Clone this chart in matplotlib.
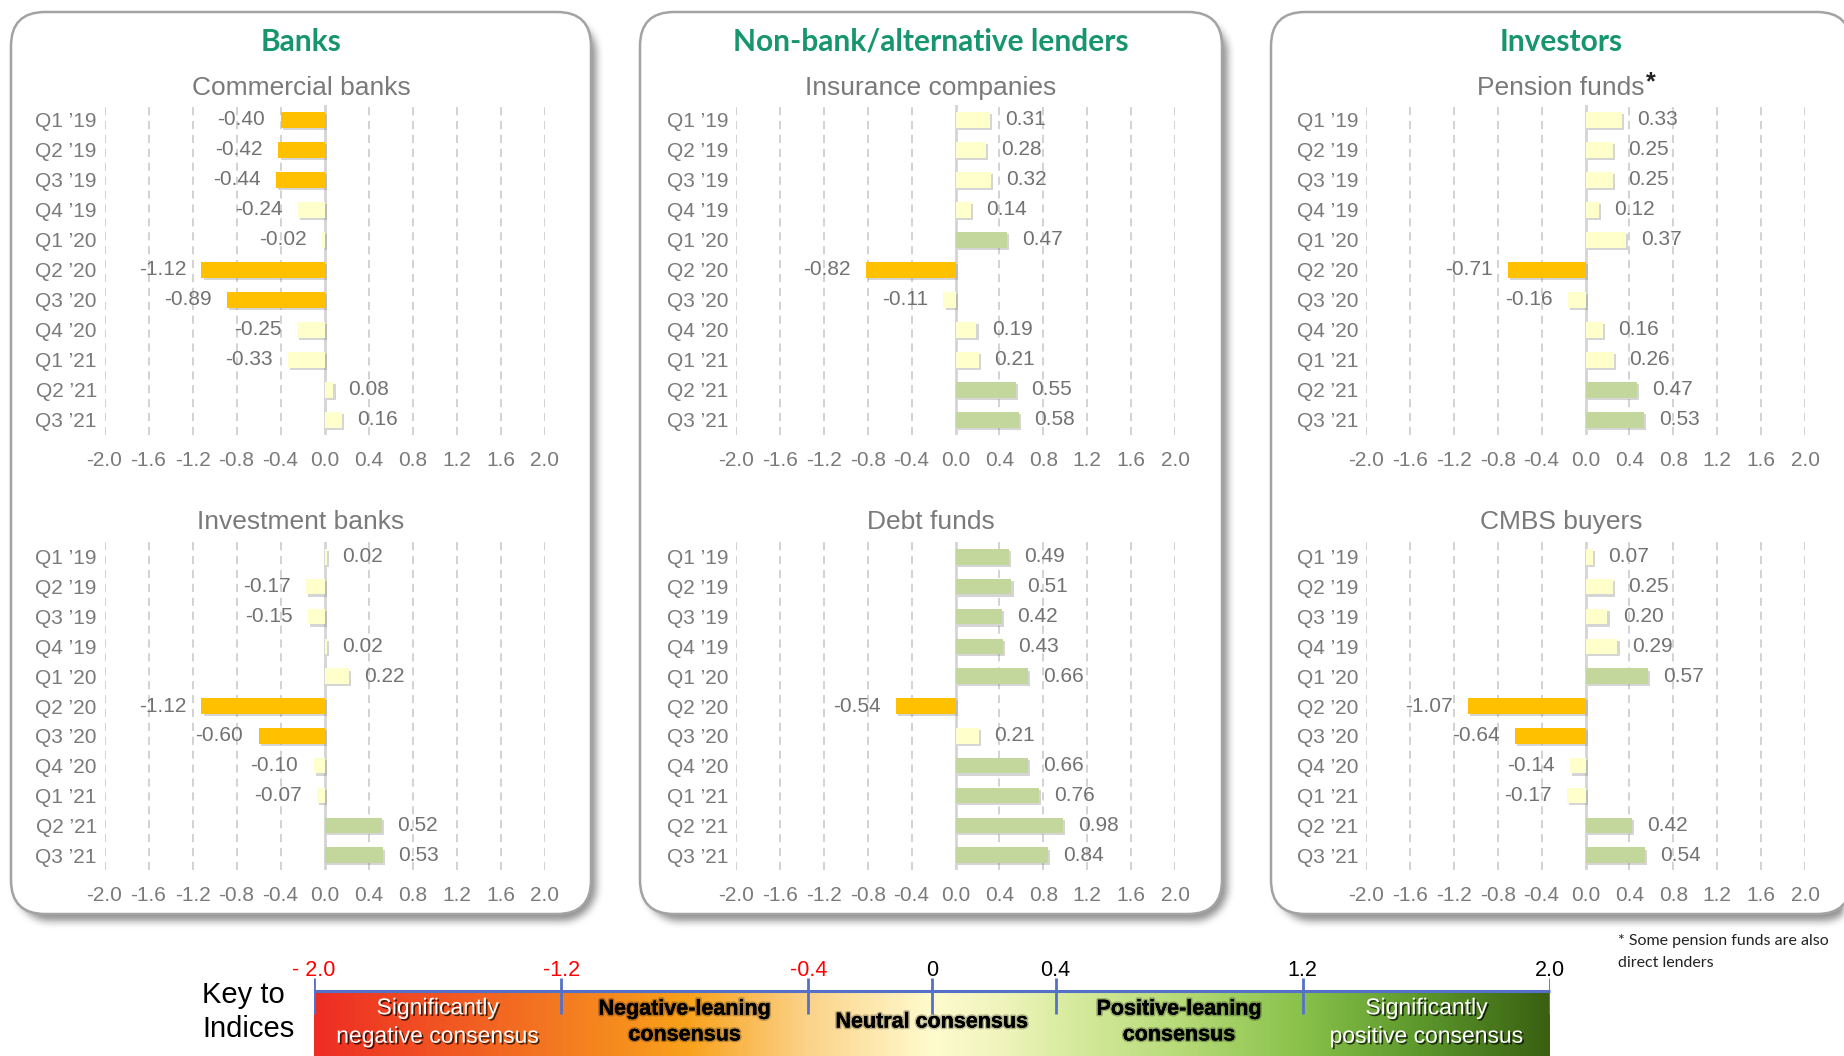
import numpy as np
import matplotlib
matplotlib.use("Agg")
import matplotlib.pyplot as plt
from matplotlib import patheffects as pe
from matplotlib.patches import FancyBboxPatch
from matplotlib.colors import LinearSegmentedColormap

plt.rcParams['font.family'] = ['Liberation Sans', 'DejaVu Sans']

# ---------------------------------------------------------------- data
quarters = ["Q1 \u201919", "Q2 \u201919", "Q3 \u201919", "Q4 \u201919",
            "Q1 \u201920", "Q2 \u201920", "Q3 \u201920", "Q4 \u201920",
            "Q1 \u201921", "Q2 \u201921", "Q3 \u201921"]

commercial_banks = [-0.40, -0.42, -0.44, -0.24, -0.02, -1.12, -0.89, -0.25, -0.33, 0.08, 0.16]
investment_banks = [0.02, -0.17, -0.15, 0.02, 0.22, -1.12, -0.60, -0.10, -0.07, 0.52, 0.53]
insurance_companies = [0.31, 0.28, 0.32, 0.14, 0.47, -0.82, -0.11, 0.19, 0.21, 0.55, 0.58]
debt_funds = [0.49, 0.51, 0.42, 0.43, 0.66, -0.54, 0.21, 0.66, 0.76, 0.98, 0.84]
pension_funds = [0.33, 0.25, 0.25, 0.12, 0.37, -0.71, -0.16, 0.16, 0.26, 0.47, 0.53]
cmbs_buyers = [0.07, 0.25, 0.20, 0.29, 0.57, -1.07, -0.64, -0.14, -0.17, 0.42, 0.54]

group_titles = ["Banks", "Non-bank/alternative lenders", "Investors"]
chart_titles = [["Commercial banks", "Investment banks"],
                ["Insurance companies", "Debt funds"],
                ["Pension funds", "CMBS buyers"]]
chart_values = [[commercial_banks, investment_banks],
                [insurance_companies, debt_funds],
                [pension_funds, cmbs_buyers]]

x_ticks = [-2.0, -1.6, -1.2, -0.8, -0.4, 0.0, 0.4, 0.8, 1.2, 1.6, 2.0]

key_ticks = [-2.0, -1.2, -0.4, 0.0, 0.4, 1.2, 2.0]
key_tick_labels = ["- 2.0", "-1.2", "-0.4", "0", "0.4", "1.2", "2.0"]
key_band_centers = [-1.6, -0.8, 0.0, 0.8, 1.6]
key_band_labels = ["Significantly\nnegative consensus", "Negative-leaning\nconsensus",
                   "Neutral consensus", "Positive-leaning\nconsensus",
                   "Significantly\npositive consensus"]
footnote = "* Some pension funds are also\ndirect lenders"

# ---------------------------------------------------------------- styling
W, H = 1844, 1056
ORANGE, PALE, GREEN = "#FFC000", "#FFFFCC", "#C3D69B"
GRAY_TXT = "#7A7A7A"
TITLE_GREEN = "#17956F"

panel_x = [(11, 591), (640, 1222), (1271, 1851)]
panel_y = (12, 914)
panel_r = 34
axes_x = [(104.5, 544.5), (736, 1175), (1366, 1805)]
axes_y = [(105, 435), (542, 870)]
subtitle_y = [88, 522]


def px_rect(x0, x1, y0, y1):
    return [x0 / W, 1 - y1 / H, (x1 - x0) / W, (y1 - y0) / H]


def bar_color(v):
    if v <= -0.4:
        return ORANGE
    if v >= 0.4:
        return GREEN
    return PALE


fig = plt.figure(figsize=(W / 100, H / 100), dpi=100)
fig.patch.set_facecolor("white")

bg = fig.add_axes([0, 0, 1, 1])
bg.set_xlim(0, W)
bg.set_ylim(H, 0)
bg.axis("off")
bg.set_zorder(0)

# soft drop shadow under the three panels
yy, xx = np.mgrid[0:H, 0:W] + 0.5
shadow = np.zeros((H, W))
for (x0, x1) in panel_x:
    sx0, sx1, sy0, sy1 = x0 + 5, x1 + 5, panel_y[0] + 7, panel_y[1] + 7
    cx, cy = (sx0 + sx1) / 2, (sy0 + sy1) / 2
    hx, hy = (sx1 - sx0) / 2 - panel_r, (sy1 - sy0) / 2 - panel_r
    dx = np.clip(np.abs(xx - cx) - hx, 0, None)
    dy = np.clip(np.abs(yy - cy) - hy, 0, None)
    d = np.hypot(dx, dy) - panel_r
    shadow = np.maximum(shadow, np.clip(0.5 - d, 0, 1))
kern = np.ones(9) / 9
for _ in range(2):
    shadow = np.apply_along_axis(lambda m: np.convolve(m, kern, mode="same"), 0, shadow)
    shadow = np.apply_along_axis(lambda m: np.convolve(m, kern, mode="same"), 1, shadow)
rgba = np.zeros((H, W, 4))
rgba[..., :3] = 0.42
rgba[..., 3] = shadow * 0.75
bg.imshow(rgba, extent=(0, W, H, 0), zorder=0.5, interpolation="bilinear", aspect="auto")

for (x0, x1) in panel_x:
    bg.add_patch(FancyBboxPatch((x0, panel_y[0]), x1 - x0, panel_y[1] - panel_y[0],
                                boxstyle=f"round,pad=0,rounding_size={panel_r}",
                                fc="white", ec="#A3A3A3", lw=1.8, zorder=1))

bar_fx = [pe.SimplePatchShadow(offset=(1.6, -1.6), shadow_rgbFace="#888888", alpha=0.35),
          pe.Normal()]

for p in range(3):
    pcx = (panel_x[p][0] + panel_x[p][1]) / 2
    bg.text(pcx, 42, group_titles[p], ha="center", va="center", fontsize=21.5,
            fontweight="bold", family=["Lato", "DejaVu Sans"], color=TITLE_GREEN, zorder=3)
    for r in range(2):
        vals = chart_values[p][r]
        t = bg.text(pcx, subtitle_y[r], chart_titles[p][r], ha="center", va="center",
                    fontsize=19, color=GRAY_TXT, zorder=3)
        if p == 2 and r == 0:
            bg.annotate("*", xy=(1, 0.72), xycoords=t, xytext=(0.5, 0),
                        textcoords="offset points", ha="left", va="center",
                        fontsize=18, fontweight="bold", color="#222222", zorder=3)

        ax = fig.add_axes(px_rect(axes_x[p][0], axes_x[p][1], axes_y[r][0], axes_y[r][1]))
        ax.set_zorder(2)
        ax.patch.set_visible(False)
        for s in ax.spines.values():
            s.set_visible(False)

        for tx in x_ticks:
            if tx != 0:
                ax.axvline(tx, color="#CFCFCF", lw=1.3, ls=(0, (4.5, 3.2)), zorder=1)
        ax.axvline(0, color="#D4D4D4", lw=2.0, zorder=2)

        ypos = np.arange(len(quarters))
        bars = ax.barh(ypos, vals, height=0.52, color=[bar_color(v) for v in vals],
                       lw=0, zorder=3)
        for b in bars:
            b.set_path_effects(bar_fx)
        for i, v in enumerate(vals):
            ax.annotate(f"{v:.2f}", xy=(v, i), xytext=(11 if v >= 0 else -11, 0),
                        textcoords="offset points", ha="left" if v >= 0 else "right",
                        va="center", fontsize=15, color="#727272", zorder=4)

        ax.set_xlim(-2, 2)
        ax.set_ylim(len(quarters) - 0.5, -0.5)
        ax.set_xticks(x_ticks)
        ax.set_xticklabels([f"{tx:.1f}" for tx in x_ticks])
        ax.set_yticks(ypos)
        ax.set_yticklabels(quarters)
        ax.tick_params(axis="both", length=0, labelsize=15, labelcolor=GRAY_TXT)
        ax.tick_params(axis="x", pad=11.5)
        ax.tick_params(axis="y", pad=5.5)

# ---------------------------------------------------------------- key to indices
bg.text(202, 1012, "Key to\nIndices", ha="left", va="center", fontsize=21,
        linespacing=1.3, color="black", zorder=3)

kx = fig.add_axes(px_rect(314, 1550, 955, 1056))
kx.set_zorder(3)
kx.set_xlim(-2, 2)
kx.set_ylim(1056, 955)
kx.axis("off")

key_cmap = LinearSegmentedColormap.from_list("key", [
    (0.00, "#EE2D24"), (0.20, "#F47B20"), (0.30, "#F9A11B"), (0.40, "#FBD38A"),
    (0.50, "#FFFBCE"), (0.56, "#EEF4BA"), (0.60, "#DCEDA4"), (0.70, "#B7DB79"),
    (0.80, "#89C24A"), (0.90, "#5B962B"), (1.00, "#3A6111")])
kx.imshow(np.linspace(0, 1, 600)[None, :], cmap=key_cmap, extent=(-2, 2, 1056, 993),
          aspect="auto", interpolation="bilinear", zorder=1)

BLUE = "#5670C8"
kx.plot([-2, 2], [991, 991], color=BLUE, lw=2.2, zorder=2, clip_on=False,
        solid_capstyle="butt")
kx.vlines(key_ticks, 978, 1014, color=BLUE, lw=2.0, zorder=2)
for tv, tl in zip(key_ticks, key_tick_labels):
    kx.text(tv, 970, tl, ha="center", va="center", fontsize=15.5,
            color="#FF0000" if tv < 0 else "black", zorder=3)

for cx, lab in zip(key_band_centers, key_band_labels):
    outer = abs(cx) > 1.2
    fx = [pe.SimplePatchShadow(offset=(1.2, -1.2), shadow_rgbFace="black", alpha=0.7),
          pe.Normal()] if outer else \
         [pe.withStroke(linewidth=2.5, foreground=(0, 0, 0, 0.25)), pe.Normal()]
    kx.text(cx, 1022, lab, ha="center", va="center", linespacing=1.3,
            fontsize=16.5 if outer else 15.5, fontweight="normal" if outer else "bold",
            color="white" if outer else "black", zorder=3, path_effects=fx)

bg.text(1618, 952, footnote, ha="left", va="center", fontsize=11.5,
        family=["Lato", "DejaVu Sans"], linespacing=1.65, color="#222222", zorder=3)

fig.savefig("out.png", dpi=100, facecolor="white")
